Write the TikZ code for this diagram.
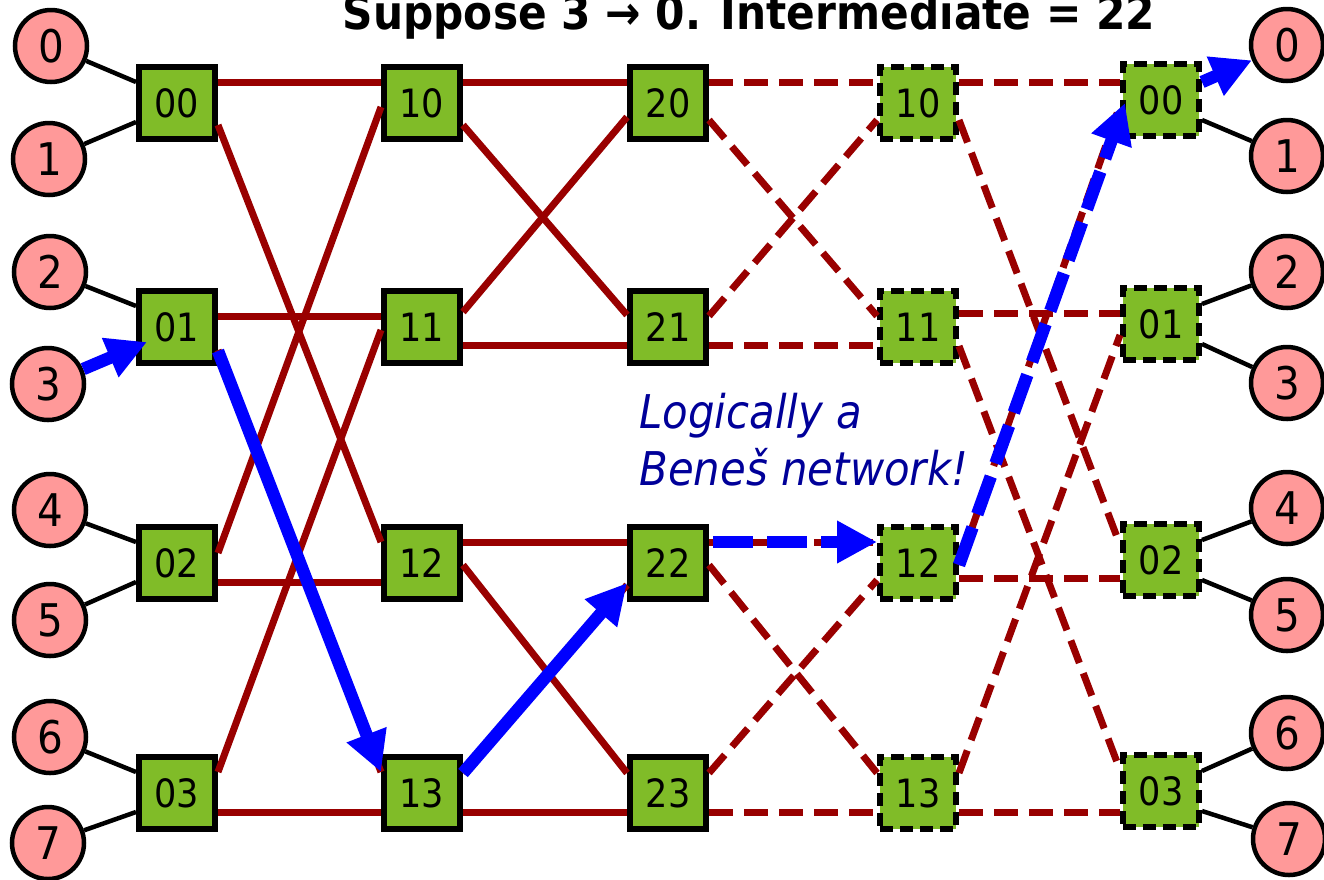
\documentclass[tikz,border=0pt]{standalone}
\usepackage{fontspec}
\setmainfont{DejaVu Sans Condensed}[
  BoldFont={DejaVu Sans Condensed Bold},
  ItalicFont={DejaVu Sans Condensed Oblique}]
\usetikzlibrary{arrows.meta,calc}
\definecolor{boxgreen}{HTML}{80BC28}
\definecolor{termpink}{HTML}{FF9999}
\definecolor{wirered}{HTML}{990000}
\definecolor{routeblue}{HTML}{0000FF}
\definecolor{notecol}{HTML}{000099}
\begin{document}
\begin{tikzpicture}[x=1pt,y=-1pt,
  sw/.style={draw=black,line width=6pt,fill=boxgreen,minimum width=76pt,
    minimum height=72pt,inner sep=0pt,font=\fontsize{39}{39}\selectfont},
  dsw/.style={sw,dash pattern=on 13pt off 7pt},
  term/.style={circle,draw=black,line width=4.5pt,fill=termpink,minimum size=72pt,
    inner sep=0pt,font=\fontsize{45}{45}\selectfont},
  wire/.style={draw=wirered,line width=7pt},
  dwire/.style={wire,dash pattern=on 24pt off 11pt},
  link/.style={draw=black,line width=4.5pt},
  route/.style={draw=routeblue,line width=12.5pt,-{Triangle[length=40pt,width=40pt]}},
  droute/.style={route,dash pattern=on 40pt off 14pt}]
\useasboundingbox (0,0) rectangle (1324,879);

% title
\node[anchor=base,font=\fontsize{47}{47}\selectfont\bfseries] (title) at (749,29)
  {Suppose 3 → 0. Intermediate = 22};

% switch columns
\foreach \r/\y in {0/103,1/327,2/563,3/793} {
  \node[sw] (s0\r) at (177,\y) {0\r};
  \node[sw] (m1\r) at (422,\y) {1\r};
  \node[sw] (c2\r) at (668,\y) {2\r};
  \node[dsw] (d1\r) at (918,\y) {1\r};
}
\foreach \r/\y in {0/100,1/324,2/560,3/791}
  \node[dsw] (e0\r) at (1161,\y) {0\r};

% terminals
\foreach \k/\x/\y in {0/51/46,1/49/159,2/50/272,3/48/384,4/50/510,5/50/620,6/50/737,7/48/843}
  \node[term] (i\k) at (\x,\y) {\k};
\foreach \k/\x/\y in {0/1287/45,1/1287/156,2/1287/272,3/1287/383,4/1287/508,5/1287/615,6/1287/733,7/1289/839}
  \node[term] (o\k) at (\x,\y) {\k};

% terminal links
\draw[link] (i0) -- ($(s00.west)+(0,-21)$);
\draw[link] (i1) -- ($(s00.west)+(0,19)$);
\draw[link] (i2) -- ($(s01.west)+(0,-21)$);
\draw[link] (i4) -- ($(s02.west)+(0,-21)$);
\draw[link] (i5) -- ($(s02.west)+(0,19)$);
\draw[link] (i6) -- ($(s03.west)+(0,-21)$);
\draw[link] (i7) -- ($(s03.west)+(0,19)$);
\draw[link] ($(e00.east)+(0,20)$) -- (o1);
\draw[link] ($(e01.east)+(0,-20)$) -- (o2);
\draw[link] ($(e01.east)+(0,20)$) -- (o3);
\draw[link] ($(e02.east)+(0,-20)$) -- (o4);
\draw[link] ($(e02.east)+(0,20)$) -- (o5);
\draw[link] ($(e03.east)+(0,-20)$) -- (o6);
\draw[link] ($(e03.east)+(0,20)$) -- (o7);

% stage 1 -> stage 2
\draw[wire] ($(s00.east)+(0,-21)$) -- ($(m10.west)+(0,-21)$);
\draw[wire] ($(s00.east)+(0,22)$) -- ($(m12.west)+(0,-21)$);
\draw[wire] ($(s01.east)+(0,-11)$) -- ($(m11.west)+(0,-11)$);
\draw[wire] ($(s01.east)+(0,23)$) -- ($(m13.west)+(0,-21)$);
\draw[wire] ($(s02.east)+(0,-10)$) -- ($(m10.west)+(0,4)$);
\draw[wire] ($(s02.east)+(0,19)$) -- ($(m12.west)+(0,19)$);
\draw[wire] ($(s03.east)+(0,-21)$) -- ($(m11.west)+(0,3)$);
\draw[wire] ($(s03.east)+(0,19)$) -- ($(m13.west)+(0,19)$);

% stage 2 -> stage 3
\draw[wire] ($(m10.east)+(0,-21)$) -- ($(c20.west)+(0,-21)$);
\draw[wire] ($(m10.east)+(0,22)$) -- ($(c21.west)+(0,-12)$);
\draw[wire] ($(m11.east)+(0,-15)$) -- ($(c20.west)+(0,14)$);
\draw[wire] ($(m11.east)+(0,18)$) -- ($(c21.west)+(0,18)$);
\draw[wire] ($(m12.east)+(0,-21)$) -- ($(c22.west)+(0,-21)$);
\draw[wire] ($(m12.east)+(0,2)$) -- ($(c23.west)+(0,-20)$);
\draw[wire] ($(m13.east)+(0,-20)$) -- ($(c22.west)+(0,22)$);
\draw[wire] ($(m13.east)+(0,19)$) -- ($(c23.west)+(0,19)$);

% stage 3 -> stage 4 (mirror half)
\draw[dwire] ($(c20.east)+(0,-21)$) -- ($(d10.west)+(0,-21)$);
\draw[dwire] ($(c20.east)+(0,17)$) -- ($(d11.west)+(0,-11)$);
\draw[dwire] ($(c21.east)+(0,-11)$) -- ($(d10.west)+(0,17)$);
\draw[dwire] ($(c21.east)+(0,18)$) -- ($(d11.west)+(0,18)$);
\draw[dwire] ($(c22.east)+(0,-21)$) -- ($(d12.west)+(0,-21)$);
\draw[dwire] ($(c22.east)+(0,2)$) -- ($(d13.west)+(0,-20)$);
\draw[dwire] ($(c23.east)+(0,-20)$) -- ($(d12.west)+(0,17)$);
\draw[dwire] ($(c23.east)+(0,19)$) -- ($(d13.west)+(0,19)$);

% stage 4 -> stage 5
\draw[dwire] ($(d10.east)+(0,-21)$) -- ($(e00.west)+(0,-18)$);
\draw[dwire] ($(d10.east)+(0,17)$) -- ($(e02.west)+(0,-15)$);
\draw[dwire] ($(d11.east)+(0,-14)$) -- ($(e01.west)+(0,-11)$);
\draw[dwire] ($(d11.east)+(0,19)$) -- ($(e03.west)+(0,-21)$);
\draw[dwire] ($(d12.east)+(0,2)$) -- ($(e00.west)+(0,5)$);
\draw[dwire] ($(d12.east)+(0,15)$) -- ($(e02.west)+(0,18)$);
\draw[dwire] ($(d13.east)+(0,-20)$) -- ($(e01.west)+(0,11)$);
\draw[dwire] ($(d13.east)+(0,19)$) -- ($(e03.west)+(0,21)$);

% route 3 -> 0 through 22
\draw[route] (i3) -- ($(s01.center)+(-30,15)$);
\draw[route] ($(s01.east)+(0,24)$) -- ($(m13.west)+(0,-21)$);
\draw[route] ($(m13.east)+(0,-20)$) -- ($(c22.west)+(0,20)$);
\draw[droute] ($(c22.east)+(4,-21)$) -- ($(d12.west)+(0,-21)$);
\draw[droute] ($(d12.east)+(0,2)$) -- ($(e00.west)+(5,3)$);
\draw[route] ($(e00.east)+(0,-18)$) -- (o0);

% annotation
\node[anchor=base west,text=notecol,font=\fontsize{46.5}{46.5}\selectfont\itshape]
  (note1) at (636,428) {Logically a};
\node[anchor=base west,text=notecol,font=\fontsize{46.5}{46.5}\selectfont\itshape]
  (note2) at (636,485) {Beneš network!};
\end{tikzpicture}
\end{document}
